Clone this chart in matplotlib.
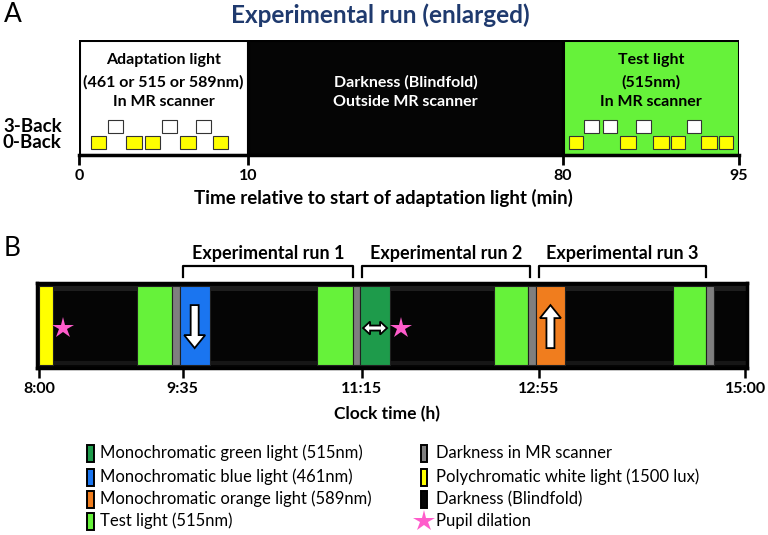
import matplotlib
matplotlib.use("Agg")
import matplotlib.pyplot as plt
import matplotlib.transforms as mtransforms
from matplotlib.patches import Rectangle, Polygon
import numpy as np

plt.rcParams['font.family'] = ['Lato', 'DejaVu Sans']

# ---- panel A data (minutes relative to start of adaptation light)
a_ticks = [0, 10, 80, 95]
a_seg_start = [0, 10, 80]
a_seg_end = [10, 80, 95]
a_seg_kind = ['adapt', 'dark', 'test']
a_seg_text = [['Adaptation light', '(461 or 515 or 589nm)', 'In MR scanner'],
              ['Darkness (Blindfold)', 'Outside MR scanner'],
              ['Test light', '(515nm)', 'In MR scanner']]
back0_start = [0.7, 2.8, 3.9, 6.0, 7.9, 80.5, 84.9, 87.7, 89.2, 91.8, 93.3]
back0_end = [1.6, 3.7, 4.8, 6.9, 8.8, 81.7, 86.2, 89.0, 90.4, 93.1, 94.5]
back3_start = [1.7, 4.9, 6.9, 81.8, 83.4, 86.2, 90.6]
back3_end = [2.6, 5.8, 7.8, 83.1, 84.6, 87.5, 91.8]

# ---- panel B data (minutes after 8:00)
b_ticks = [0, 95, 195, 295, 420]
b_tick_labels = ['8:00', '9:35', '11:15', '12:55', '15:00']
b_seg_start = [0, 65, 88, 93, 170, 190, 194, 270, 289, 293.5, 376, 396]
b_seg_end = [9, 88, 93, 110, 190, 194, 211, 289, 293.5, 311, 396, 401]
b_seg_kind = ['white', 'test', 'mrdark', 'blue', 'test', 'mrdark', 'green',
              'test', 'mrdark', 'orange', 'test', 'mrdark']
run_start = [95, 195, 295]
run_end = [190, 290, 396]
run_labels = ['Experimental run 1', 'Experimental run 2', 'Experimental run 3']
pupil_times = [16, 217]
arrow_kind = {'blue': 'down', 'green': 'both', 'orange': 'up'}

colors = {'adapt': 'white', 'dark': '#050505', 'test': '#66F23A',
          'white': '#FFFF00', 'mrdark': '#7F7F7F', 'blue': '#1A75F0',
          'green': '#1E9B4B', 'orange': '#F07D1E'}

legend_left = [('green', 'Monochromatic green light (515nm)'),
               ('blue', 'Monochromatic blue light (461nm)'),
               ('orange', 'Monochromatic orange light (589nm)'),
               ('test', 'Test light (515nm)')]
legend_right = [('mrdark', 'Darkness in MR scanner'),
                ('white', 'Polychromatic white light (1500 lux)'),
                ('dark', 'Darkness (Blindfold)'),
                ('star', 'Pupil dilation')]


def piecewise(vals, pos):
    vals = np.asarray(vals, float)
    pos = np.asarray(pos, float)
    s0 = (pos[1] - pos[0]) / (vals[1] - vals[0])
    s1 = (pos[-1] - pos[-2]) / (vals[-1] - vals[-2])
    v = np.concatenate([[vals[0] - 1000], vals, [vals[-1] + 1000]])
    p = np.concatenate([[pos[0] - 1000 * s0], pos, [pos[-1] + 1000 * s1]])
    return (lambda x: np.interp(x, v, p)), (lambda y: np.interp(y, p, v))


W, H = 768, 535
fig = plt.figure(figsize=(W / 100, H / 100), dpi=100)


def fig_ax(x0, y0, x1, y1):
    return fig.add_axes([x0 / W, 1 - y1 / H, (x1 - x0) / W, (y1 - y0) / H])


# ================= Panel A =================
axA = fig_ax(79, 40, 739, 155)
axA.set_xscale('function', functions=piecewise(a_ticks, [79, 248, 563, 739]))
axA.set_xlim(0, 95)
axA.set_ylim(0, 1)
for s, e, k in zip(a_seg_start, a_seg_end, a_seg_kind):
    axA.add_patch(Rectangle((s, 0), e - s, 1, facecolor=colors[k],
                            edgecolor='black', lw=2.2, zorder=1))
for s, e in zip(back0_start, back0_end):
    axA.add_patch(Rectangle((s, 0.05), e - s, 0.115, facecolor='#FFFF00',
                            edgecolor='#333333', lw=0.8, zorder=2))
for s, e in zip(back3_start, back3_end):
    axA.add_patch(Rectangle((s, 0.195), e - s, 0.105, facecolor='white',
                            edgecolor='#333333', lw=0.8, zorder=2))
line_y = {3: [0.826, 0.635, 0.461], 2: [0.635, 0.461]}
for s, e, k, lines in zip(a_seg_start, a_seg_end, a_seg_kind, a_seg_text):
    fwd = axA.xaxis.get_transform().transform
    xc = axA.xaxis.get_transform().inverted().transform(
        (fwd(s) + fwd(e)) / 2)
    for t, y in zip(lines, line_y[len(lines)]):
        axA.text(xc, y, t, ha='center', va='center', fontsize=11.5,
                 fontweight='bold', color='white' if k == 'dark' else 'black')
for sp in ['top', 'right', 'left']:
    axA.spines[sp].set_visible(False)
axA.spines['bottom'].set_linewidth(2.5)
axA.set_yticks([])
axA.set_xticks(a_ticks)
axA.set_xticklabels([str(t) for t in a_ticks], fontsize=11.5, fontweight='bold')
axA.xaxis.set_minor_locator(plt.NullLocator())
axA.tick_params(axis='x', length=7, width=2, pad=3)
axA.text(-0.026, 0.246, '3-Back', transform=axA.transAxes, ha='right',
         va='center', fontsize=13.5, fontweight='bold')
axA.text(-0.026, 0.108, '0-Back', transform=axA.transAxes, ha='right',
         va='center', fontsize=13.5, fontweight='bold')
fig.text(383 / W, 1 - 198 / H, 'Time relative to start of adaptation light (min)',
         ha='center', va='center', fontsize=13.5, fontweight='bold')
fig.text(380 / W, 1 - 15 / H, 'Experimental run (enlarged)', ha='center',
         va='center', fontsize=17.5, fontweight='bold', color='#1F3A6E')
fig.text(4 / W, 1 - 15 / H, 'A', ha='left', va='center', fontsize=19)

# ================= Panel B =================
axB = fig_ax(37, 283, 747, 368)
axB.set_xscale('function', functions=piecewise(b_ticks, [39, 182.7, 361.7, 538.3, 745]))
axB.set_xlim(-1.3, 421)
axB.set_ylim(0, 1)
axB.set_facecolor('#050505')
axB.add_patch(Rectangle((-1.3, 0.91), 422.3, 0.06, facecolor='#1e1e1e', lw=0, zorder=0.5))
axB.add_patch(Rectangle((-1.3, 0.03), 422.3, 0.05, facecolor='#161616', lw=0, zorder=0.5))
for s, e, k in zip(b_seg_start, b_seg_end, b_seg_kind):
    axB.add_patch(Rectangle((s, 0.03), e - s, 0.94, facecolor=colors[k],
                            edgecolor='#202020', lw=0.8, zorder=1))

xfwd = axB.xaxis.get_transform()
xtr = axB.get_xaxis_transform()
arrow_shapes = {
    'down': [(-4, 21.5), (4, 21.5), (4, -8.5), (10.5, -8.5), (0, -21.5),
             (-10.5, -8.5), (-4, -8.5)],
    'up': [(-4, -21.5), (4, -21.5), (4, 8.5), (10.5, 8.5), (0, 21.5),
           (-10.5, 8.5), (-4, 8.5)],
    'both': [(-12, 0), (-5, 6.5), (-5, 2.5), (5, 2.5), (5, 6.5), (12, 0),
             (5, -6.5), (5, -2.5), (-5, -2.5), (-5, -6.5)],
}
for s, e, k in zip(b_seg_start, b_seg_end, b_seg_kind):
    if k in arrow_kind:
        xc = xfwd.inverted().transform((xfwd.transform(s) + xfwd.transform(e)) / 2)
        yc = 0.47 if arrow_kind[k] == 'both' else 0.487
        tr = (mtransforms.Affine2D().scale(1 / 100) + fig.dpi_scale_trans +
              mtransforms.ScaledTranslation(xc, yc, xtr))
        axB.add_patch(Polygon(np.array(arrow_shapes[arrow_kind[k]]), closed=True,
                              facecolor='white', edgecolor='black', lw=1.3,
                              transform=tr, zorder=3))

axB.plot(pupil_times, [0.47] * len(pupil_times), linestyle='none', marker='*',
         markersize=16, color='#FF5CCB', markeredgewidth=0, zorder=3)

for s, e, lab in zip(run_start, run_end, run_labels):
    axB.plot([s, s, e, e], [1.07, 1.196, 1.196, 1.07], color='black', lw=1.6,
             transform=xtr, clip_on=False)
    xc = xfwd.inverted().transform((xfwd.transform(s) + xfwd.transform(e)) / 2)
    axB.text(xc, 1.35, lab, transform=xtr, ha='center', va='center',
             fontsize=13, fontweight='bold')

for sp in axB.spines.values():
    sp.set_linewidth(2.5)
    sp.set_color('black')
axB.set_yticks([])
axB.set_xticks(b_ticks)
axB.set_xticklabels(b_tick_labels, fontsize=11.5, fontweight='bold')
axB.xaxis.set_minor_locator(plt.NullLocator())
axB.tick_params(axis='x', length=7, width=1.8, pad=3)
fig.text(387 / W, 1 - 414 / H, 'Clock time (h)', ha='center', va='center',
         fontsize=12.5, fontweight='bold')
fig.text(4 / W, 1 - 248 / H, 'B', ha='left', va='center', fontsize=19)

# ================= Legend =================
row_y = [453, 477, 499, 521]
for col, entries, sx, sw, tx in [(0, legend_left, 87, 7, 100),
                                 (1, legend_right, 421, 6, 436)]:
    for (k, label), y in zip(entries, row_y):
        if k == 'star':
            fig.lines.append(plt.Line2D([(sx + 3) / W], [1 - y / H], marker='*',
                                        markersize=16, color='#FF5CCB',
                                        markeredgewidth=0,
                                        transform=fig.transFigure))
        else:
            fig.patches.append(Rectangle((sx / W, 1 - (y + 8.5) / H), sw / W,
                                         17 / H, facecolor=colors[k],
                                         edgecolor='black', lw=1.4,
                                         transform=fig.transFigure))
        fig.text(tx / W, 1 - y / H, label, ha='left', va='center', fontsize=12)

fig.savefig('out.png', dpi=100)
